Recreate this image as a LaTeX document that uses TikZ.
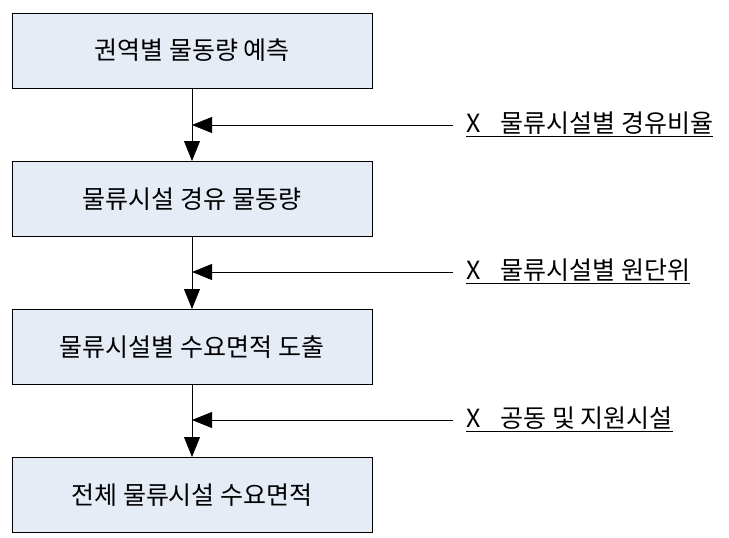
\documentclass[tikz,border=0pt]{standalone}
\usepackage{fontspec}
\setmainfont{Noto Sans CJK KR}
\usetikzlibrary{positioning, arrows.meta}
\definecolor{boxfill}{RGB}{230,236,246}
\tikzset{
    step box/.style = {draw, line width=1pt, fill=boxfill, minimum width=360pt, minimum height=75pt, font=\fontsize{25}{28}\selectfont},
    flow/.style = {draw, line width=0.8pt, -{Triangle[length=20pt, width=16pt]}},
    factor/.style = {anchor=west, inner xsep=0pt, font=\fontsize{25}{28}\selectfont},
}
\newcommand{\uline}[1]{\underline{#1}}
\begin{document}
\begin{tikzpicture}[x=1pt, y=-1pt]
            \useasboundingbox (0, 0) rectangle (729, 538);
            \node[step box] (A) at (192, 50.5) {권역별 물동량 예측};
            \node[step box] (B) at (192, 199) {물류시설 경유 물동량};
            \node[step box] (C) at (192, 347) {물류시설별 수요면적 도출};
            \node[step box] (D) at (192, 495) {전체 물류시설 수요면적};

            \coordinate (ab) at (192, 125);
            \coordinate (bc) at (192, 272);
            \coordinate (cd) at (192, 420);

            \node[factor] (x1) at (466, 124) {\uline{X\hspace{20pt}물류시설별 경유비율}};
            \node[factor] (x2) at (466, 271) {\uline{X\hspace{20pt}물류시설별 원단위}};
            \node[factor] (x3) at (466, 419) {\uline{X\hspace{20pt}공동 및 지원시설}};

            \draw[flow] (A) -- (B);
            \draw[flow] (B) -- (C);
            \draw[flow] (C) -- (D);
            \draw[flow] (453, 125) -- (ab);
            \draw[flow] (453, 272) -- (bc);
            \draw[flow] (453, 420) -- (cd);
        \end{tikzpicture}
\end{document}
